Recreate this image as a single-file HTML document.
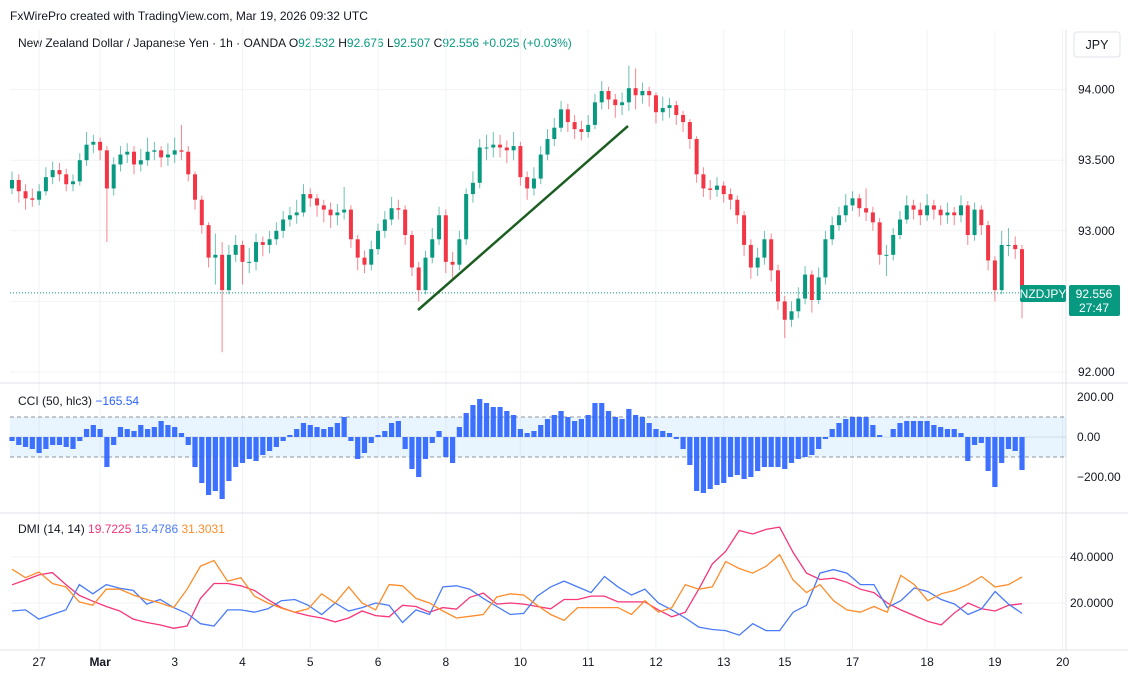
<!DOCTYPE html>
<html><head><meta charset="utf-8"><style>
body{margin:0;background:#fff;font-family:"Liberation Sans",sans-serif;}
#wrap{position:relative;width:1128px;height:679px;overflow:hidden;}
svg text{font-family:"Liberation Sans",sans-serif;}
</style></head><body>
<div id="wrap">
<svg id="chart" width="1128" height="679">
  <text x="10" y="20" font-size="12" fill="#131722">FxWirePro created with TradingView.com, Mar 19, 2026 09:32 UTC</text>
  <text x="18" y="47" font-size="12" fill="#131722">New Zealand Dollar / Japanese Yen · 1h · OANDA  <tspan>O</tspan><tspan fill="#089981">92.532</tspan> <tspan>H</tspan><tspan fill="#089981">92.676</tspan> <tspan>L</tspan><tspan fill="#089981">92.507</tspan> <tspan>C</tspan><tspan fill="#089981">92.556</tspan> <tspan fill="#089981">+0.025 (+0.03%)</tspan></text>
  <rect x="1074" y="32" width="46" height="25" rx="3" fill="#fff" stroke="#e0e3eb"/>
  <text x="1097" y="49" font-size="12.5" fill="#131722" text-anchor="middle">JPY</text>
  <g id="grid"></g>
  <g id="candles"></g>
  <g id="cci"></g>
  <g id="dmi"></g>
  <g id="axes"></g>
</svg>
</div>
<script>
const closes=[93.36,93.28,93.23,93.22,93.28,93.38,93.43,93.40,93.33,93.35,
93.50,93.61,93.63,93.57,93.30,93.47,93.54,93.56,93.47,93.50,
93.56,93.57,93.52,93.54,93.57,93.56,93.40,93.22,93.04,92.81,
92.83,92.58,92.83,92.90,92.78,92.78,92.92,92.90,92.94,93.00,
93.08,93.11,93.13,93.26,93.23,93.18,93.15,93.11,93.13,93.15,
92.94,92.81,92.76,92.87,93.00,93.08,93.16,93.15,92.97,92.74,
92.58,92.81,92.94,93.11,92.78,92.76,92.94,93.26,93.34,93.59,
93.59,93.61,93.59,93.57,93.60,93.38,93.30,93.37,93.54,93.65,
93.73,93.86,93.77,93.72,93.70,93.75,93.91,93.99,93.93,93.89,
93.91,94.01,93.96,93.99,93.96,93.84,93.87,93.89,93.82,93.77,
93.65,93.40,93.30,93.29,93.32,93.26,93.22,93.11,92.90,92.74,
92.81,92.94,92.72,92.50,92.37,92.43,92.52,92.69,92.51,92.67,
92.94,93.04,93.11,93.18,93.23,93.16,93.13,93.06,92.83,92.83,
92.97,93.08,93.18,93.15,93.11,93.18,93.15,93.11,93.13,93.11,
93.18,92.97,93.15,93.04,92.79,92.58,92.90,92.90,92.87,92.56];
const firstOpen=93.30;
const highs=[93.42,93.40,93.33,93.30,93.33,93.45,93.49,93.48,93.44,93.40,
93.55,93.70,93.68,93.66,93.60,93.52,93.60,93.62,93.60,93.58,
93.66,93.63,93.60,93.62,93.66,93.75,93.60,93.42,93.25,93.06,
92.98,92.92,92.90,92.97,92.93,92.88,92.98,92.96,93.00,93.06,
93.14,93.17,93.22,93.33,93.30,93.26,93.22,93.20,93.19,93.31,
93.18,92.97,92.86,92.93,93.05,93.14,93.24,93.22,93.18,93.00,
92.78,92.86,93.02,93.17,93.15,92.85,93.00,93.30,93.42,93.65,
93.68,93.70,93.68,93.64,93.70,93.63,93.42,93.45,93.60,93.72,
93.80,93.92,93.90,93.82,93.78,93.82,93.97,94.06,94.02,93.97,
93.98,94.17,94.15,94.05,94.02,93.98,93.95,93.94,93.92,93.85,
93.79,93.67,93.45,93.36,93.38,93.35,93.30,93.25,93.14,92.94,
92.88,93.00,92.98,92.76,92.54,92.50,92.60,92.75,92.72,92.74,
93.00,93.10,93.17,93.26,93.28,93.26,93.30,93.17,93.09,92.90,
93.02,93.14,93.25,93.22,93.20,93.26,93.22,93.18,93.20,93.17,
93.25,93.21,93.20,93.18,93.07,92.82,93.00,93.02,92.96,92.90];
const lows=[93.26,93.20,93.15,93.17,93.18,93.25,93.33,93.35,93.28,93.28,
93.32,93.46,93.55,93.50,92.92,93.25,93.42,93.48,93.40,93.42,
93.46,93.50,93.45,93.46,93.48,93.50,93.35,93.15,92.98,92.74,
92.62,92.14,92.55,92.78,92.62,92.70,92.72,92.82,92.84,92.90,
92.95,93.03,93.05,93.10,93.17,93.10,93.06,93.02,93.04,93.08,
92.88,92.72,92.70,92.72,92.83,92.95,93.04,93.08,92.90,92.68,
92.50,92.55,92.77,92.90,92.70,92.66,92.72,92.90,93.20,93.30,
93.50,93.52,93.52,93.48,93.50,93.32,93.22,93.25,93.33,93.50,
93.60,93.70,93.70,93.65,93.64,93.66,93.72,93.86,93.86,93.80,
93.82,93.85,93.86,93.90,93.88,93.76,93.78,93.80,93.75,93.70,
93.58,93.34,93.24,93.22,93.24,93.20,93.15,93.05,92.82,92.66,
92.68,92.76,92.64,92.44,92.24,92.32,92.38,92.48,92.42,92.48,
92.62,92.90,93.00,93.06,93.14,93.10,93.07,93.00,92.76,92.68,
92.79,92.94,93.05,93.08,93.04,93.07,93.08,93.04,93.05,93.04,
93.06,92.90,92.93,92.97,92.72,92.50,92.55,92.82,92.80,92.38];
const cciValues=[-20,-40,-50,-60,-80,-60,-40,-40,-50,-60,
-20,40,60,40,-150,-40,50,40,30,60,
40,50,80,60,50,20,-40,-150,-230,-290,
-270,-310,-220,-150,-130,-110,-120,-90,-70,-50,
-20,10,40,70,60,50,40,50,70,100,
-20,-110,-80,-30,10,30,70,80,-60,-160,
-200,-110,-30,30,-100,-130,50,120,160,190,
170,150,150,130,110,40,20,30,60,90,
110,130,100,80,90,110,170,170,130,100,
90,140,110,100,70,40,30,20,-10,-60,
-140,-270,-280,-260,-240,-230,-200,-190,-210,-200,
-170,-150,-150,-150,-160,-130,-110,-100,-90,-60,
-10,40,70,90,100,100,100,60,10,0,
40,70,80,80,80,80,60,50,40,40,
20,-120,-40,-30,-170,-250,-130,-60,-70,-165];
const diPlus=[27.9,30,32.2,33.2,28,23.3,20.8,18.5,16.5,13,11.5,10.5,9,10,22,28.5,28.5,27.5,25.5,21.5,18,16,14.5,13.5,11.8,13.5,16.5,14.5,14,19,18.5,16,18,17.3,22.5,24.3,19.5,20,
19.5,18.5,17.5,21.5,21.5,23,23,20.5,20.5,20.5,17,14,16,26,37,42.5,51.5,50,52,53,42,33,30.2,30.8,29,26,24.5,20,17,14.5,12,10.5,15.8,20,17.5,16.5,19,19.7];
const diMinus=[16.5,17,13,15,17,28,24,28,26.4,25.5,19.5,21.5,18,15.5,11,10,17,17,16,17.5,21,21.5,19,15,20,16.5,18,20,19,11.5,17,15,27,27.5,26,22,18.5,15,
15.5,23,27,29.5,27,24.5,31.5,27,23.5,26,20,17,13.5,9.5,8.5,8,6,11,8,8,16,19,33,34.5,33,28,28,18,21,26.5,25,21.5,19.5,15,17.5,25,19.5,15.5];
const adx=[34.7,31,33.5,28.5,27,20.5,19,26,26,23.5,21.5,20,18,26,36,38.5,29.5,31,23,20,17.8,16,17.5,24,20,27,20,17,28,27.5,22,20,16.5,13.5,14.2,15,22.6,24,
23.5,19,15,12.5,18,18,18,18,15,21,16,18,28,26,27,38,35,33,36,41,30,24.5,28,21,17,16,18.5,16,32,28,21,24,25.5,28,31.5,27,28,31.3];
const priceTicks=[92,92.5,93,93.5,94];
const priceTickLabels=["92.000","","93.000","93.500","94.000"];
const cciTicks=[200,0,-200];
const cciTickLabels=["200.00","0.00","−200.00"];
const dmiTicks=[40,20];
const dmiTickLabels=["40.0000","20.0000"];
const timeLabels=["27","Mar","3","4","5","6","8","10","11","12","13","15","17","18","19","20"];
const timeLabelIdx=[4,13,24,34,44,54,64,75,85,95,105,114,124,135,145,155];

const NS="http://www.w3.org/2000/svg";
function mk(tag,attrs,parent){const e=document.createElementNS(NS,tag);for(const k in attrs)e.setAttribute(k,attrs[k]);parent.appendChild(e);return e;}
const X0=12,X1=1022,N=closes.length,STEP=(X1-X0)/(N-1);
const xAt=i=>X0+i*STEP;
const yPrice=p=>372-(p-92)*141.2;
const yCci=v=>437-v*0.2;
const yDmi=v=>603-(v-20)*2.3;
const DSTEP=(X1-X0)/(diPlus.length-1);
const xD=i=>X0+i*DSTEP;
const PW=1066;
const grid=document.getElementById('grid'),cg=document.getElementById('candles'),ccig=document.getElementById('cci'),dg=document.getElementById('dmi'),ax=document.getElementById('axes');

timeLabelIdx.forEach((ix,k)=>{const x=xAt(ix);if(x<PW){const l=mk('line',{x1:x,x2:x,y1:30,y2:650,stroke:'#f2f3f5'},grid);

}});
priceTicks.forEach((p,k)=>{const y=yPrice(p);const l=mk('line',{x1:10,x2:PW,y1:y,y2:y,stroke:'#f2f3f5'},grid);


if(priceTickLabels[k]){const t=mk('text',{x:1078,y:y+4,'font-size':12,fill:'#131722'},ax);t.textContent=priceTickLabels[k];

}});
[383,513,650].forEach(y=>{const l=mk('line',{x1:0,x2:1128,y1:y,y2:y,stroke:'#e0e3eb'},grid);

});
const vl=mk('line',{x1:PW,x2:PW,y1:30,y2:650,stroke:'#e0e3eb'},grid);



const lastY=yPrice(closes[N-1]);
const pl=mk('line',{x1:10,x2:PW,y1:lastY,y2:lastY,stroke:'#089981','stroke-dasharray':'1,2','stroke-width':1},cg);



for(let i=0;i<N;i++){
  const o=i?closes[i-1]:firstOpen,c=closes[i],up=c>=o,col=up?'#089981':'#f23645';
  const x=xAt(i);
  const w=mk('line',{x1:x,x2:x,y1:yPrice(highs[i]),y2:yPrice(lows[i]),stroke:col,'stroke-opacity':0.6,'stroke-width':1},cg);
  
  
  const y1=yPrice(Math.max(o,c)),y2=yPrice(Math.min(o,c));
  const b=mk('rect',{x:x-2,y:y1,width:4,height:Math.max(1,y2-y1),fill:col},cg);
  
  
}
const tl=mk('line',{x1:418,y1:310,x2:628,y2:126,stroke:'#1b5e20','stroke-width':2.5},cg);



const sb=mk('rect',{x:1020,y:285,width:46,height:17,rx:2,fill:'#089981'},ax);


let t=mk('text',{x:1043,y:298,'font-size':12,fill:'#fff','text-anchor':'middle'},ax);t.textContent='NZDJPY';


const pb=mk('rect',{x:1069,y:285,width:51,height:31,rx:2,fill:'#089981'},ax);


t=mk('text',{x:1094,y:298,'font-size':12,fill:'#fff','text-anchor':'middle'},ax);t.textContent='92.556';


t=mk('text',{x:1094,y:312,'font-size':12,fill:'#fff','text-anchor':'middle'},ax);t.textContent='27:47';



const band=mk('rect',{x:10,y:yCci(100),width:PW-10,height:yCci(-100)-yCci(100),fill:'#2196f3','fill-opacity':0.1},ccig);


[100,0,-100].forEach(v=>{const l=mk('line',{x1:10,x2:PW,y1:yCci(v),y2:yCci(v),stroke:'#787b86','stroke-dasharray':v===0?'none':'4,3','stroke-opacity':v===0?0.2:0.8},ccig);

});
for(let i=0;i<N;i++){const v=cciValues[i],y0=yCci(0),y=yCci(v);
  const r=mk('rect',{x:xAt(i)-2.6,y:Math.min(y0,y),width:5.2,height:Math.abs(y-y0),fill:'#2962ff','fill-opacity':0.9},ccig);
  
  }
cciTicks.forEach((v,k)=>{const tt=mk('text',{x:1077,y:yCci(v)+4,'font-size':12,fill:'#131722'},ax);tt.textContent=cciTickLabels[k];

});
t=mk('text',{x:18,y:405,'font-size':12,fill:'#131722'},ax);t.innerHTML='CCI (50, hlc3) <tspan fill="#2962ff">−165.54</tspan>';



dmiTicks.forEach((v,k)=>{const y=yDmi(v);const l=mk('line',{x1:10,x2:PW,y1:y,y2:y,stroke:'#f2f3f5'},grid);


const tt=mk('text',{x:1070,y:y+4,'font-size':12,fill:'#131722'},ax);tt.textContent=dmiTickLabels[k];

});
function series(arr,col,name){const d=arr.map((v,i)=>(i?'L':'M')+xD(i).toFixed(1)+','+yDmi(v).toFixed(1)).join(' ');
const p=mk('path',{d:d,fill:'none',stroke:col,'stroke-width':1.3},dg);

}
series(diPlus,'#f7357b','dmi-plus-line');
series(diMinus,'#4a7bf7','dmi-minus-line');
series(adx,'#ff8c2a','adx-line');
t=mk('text',{x:18,y:533,'font-size':12,fill:'#131722'},ax);t.innerHTML='DMI (14, 14)  <tspan fill="#f7357b">19.7225</tspan>  <tspan fill="#4a7bf7">15.4786</tspan>  <tspan fill="#ff8c2a">31.3031</tspan>';



timeLabels.forEach((s,k)=>{const x=xAt(timeLabelIdx[k]);const tt=mk('text',{x:x,y:666,'font-size':12,fill:'#131722','text-anchor':'middle','font-weight':s==='Mar'?'bold':'normal'},ax);tt.textContent=s;

});
</script>
</body></html>
